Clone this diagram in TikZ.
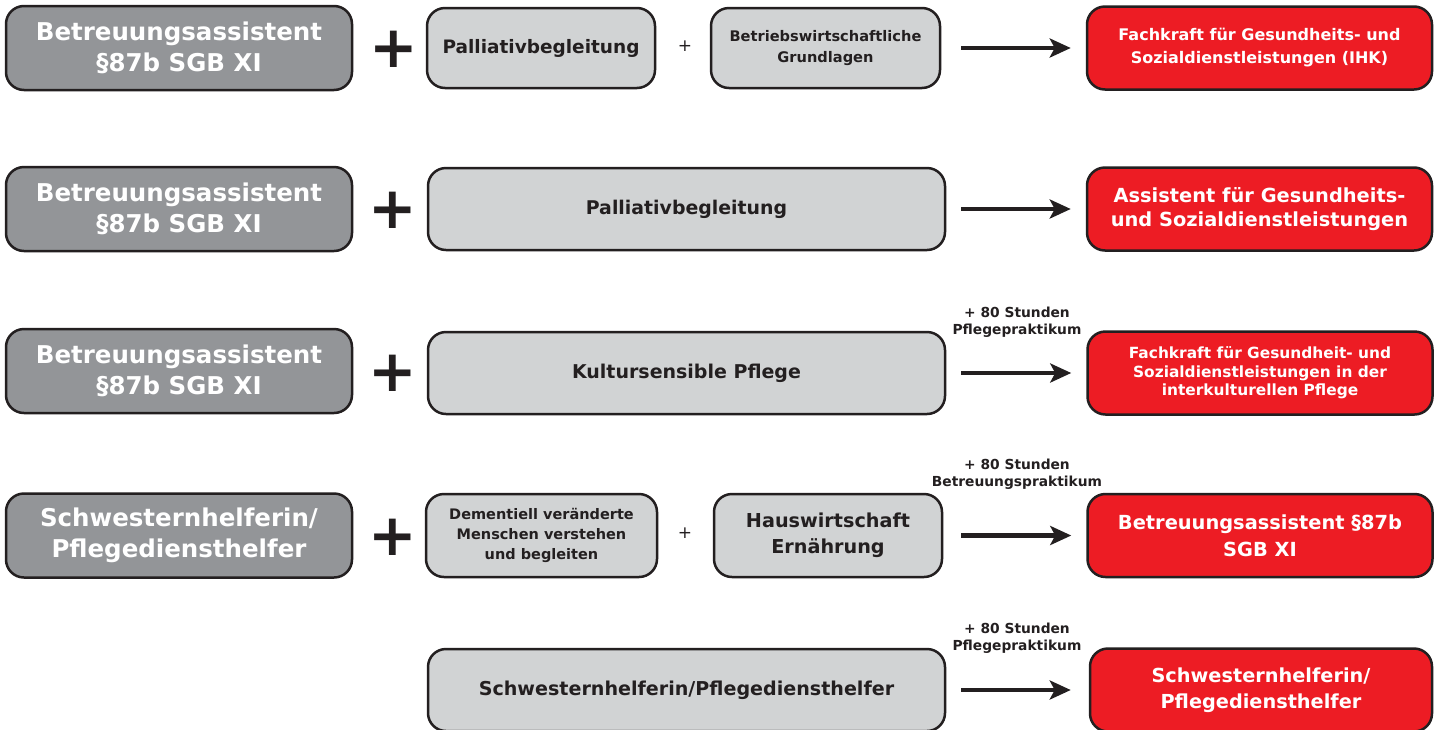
\documentclass[tikz,border=0pt]{standalone}
\usepackage{fontspec}
\setmainfont{DejaVu Sans}
\usetikzlibrary{arrows.meta}
\definecolor{dgray}{HTML}{939598}
\definecolor{lgray}{HTML}{D1D3D4}
\definecolor{rred}{HTML}{ED1C24}
\definecolor{edge}{HTML}{231F20}
\newcommand{\fs}[2]{\bfseries\fontsize{#1}{#2}\selectfont}
\tikzset{
  box/.style={draw=edge, line width=2.5pt, rounded corners=18pt, align=center, inner sep=0pt},
  darkbox/.style={box, fill=dgray, text=white, minimum width=346pt, minimum height=84pt, font=\fs{24.5}{31}},
  lightbox/.style={box, fill=lgray, text=edge},
  redbox/.style={box, fill=rred, text=white, minimum width=345pt, minimum height=83pt},
  bigplus/.style={font=\fs{58}{58}, text=edge, inner sep=0pt},
  smallplus/.style={font=\fontsize{17}{17}\selectfont, text=edge, inner sep=0pt},
  conn/.style={-{Stealth[length=21pt,width=19pt,inset=5pt]}, line width=4.5pt, edge},
  note/.style={font=\fs{13.8}{17}, text=edge, align=center, inner sep=0pt}
}
\begin{document}
\begin{tikzpicture}[x=1pt,y=-1pt]
\useasboundingbox[fill=white] (0,0) rectangle (1435,729);
% Row 1
\node[darkbox] (g1) at (179,48) {Betreuungsassistent\\§87b SGB XI};
\node[bigplus] (p1) at (394,49) {+};
\node[lightbox, minimum width=228pt, minimum height=80pt, font=\fs{18.5}{22}] (a1) at (541,48) {Palliativbegleitung};
\node[smallplus] (q1) at (685,46) {+};
\node[lightbox, minimum width=229pt, minimum height=80pt, font=\fs{14.6}{21}] (b1) at (825.5,48) {Betriebswirtschaftliche\\Grundlagen\rule[-4pt]{0pt}{0pt}};
\node[redbox, font=\fs{16}{23}] (r1) at (1259.5,48) {Fachkraft für Gesundheits- und\\Sozialdienstleistungen (IHK)};
\draw[conn, shorten <=20pt, shorten >=15pt] (b1.east) -- (r1.west);
% Row 2
\node[darkbox] (g2) at (179,209) {Betreuungsassistent\\§87b SGB XI};
\node[bigplus] (p2) at (393,210) {+};
\node[lightbox, minimum width=517pt, minimum height=82pt, font=\fs{18.9}{22}] (a2) at (686.5,209) {Palliativbegleitung};
\node[redbox, font=\fs{19.4}{24}] (r2) at (1259.5,209) {Assistent für Gesundheits-\\und Sozialdienstleistungen};
\draw[conn, shorten <=15pt, shorten >=15pt] (a2.east) -- (r2.west);
% Row 3
\node[darkbox] (g3) at (179,371) {Betreuungsassistent\\§87b SGB XI};
\node[bigplus] (p3) at (393,373) {+};
\node[lightbox, minimum width=517pt, minimum height=82pt, font=\fs{19}{22}] (a3) at (686.5,373) {Kultursensible Pflege};
\node[redbox, font=\fs{15.4}{18.5}] (r3) at (1260,373) {Fachkraft für Gesundheit- und\\Sozialdienstleistungen in der\\interkulturellen Pflege};
\draw[conn, shorten <=15pt, shorten >=15pt] (a3.east) -- (r3.west);
\node[note] (n3) at (1017,322) {+ 80 Stunden\\Pflegepraktikum};
% Row 4
\node[darkbox] (g4) at (179,535.5) {Schwesternhelferin/\\Pflegediensthelfer};
\node[bigplus] (p4) at (393,537) {+};
\node[lightbox, minimum width=231pt, minimum height=83pt, font=\fs{14.5}{20}] (a4) at (541.5,535.5) {Dementiell veränderte\\Menschen verstehen\\und begleiten};
\node[smallplus] (q4) at (685,533) {+};
\node[lightbox, minimum width=228pt, minimum height=83pt, font=\fs{19.2}{26}] (b4) at (828,535.5) {Hauswirtschaft\\Ernährung};
\node[redbox, font=\fs{19.4}{27}] (r4) at (1260,535.5) {Betreuungsassistent §87b\\SGB XI};
\draw[conn, shorten <=18pt, shorten >=15pt] (b4.east) -- (r4.west);
\node[note] (n4) at (1017,474) {+ 80 Stunden\\Betreuungspraktikum};
% Row 5
\node[lightbox, minimum width=517pt, minimum height=82pt, font=\fs{19.1}{22}] (a5) at (686.5,690) {Schwesternhelferin/Pflegediensthelfer};
\node[redbox, minimum width=342pt, font=\fs{19.3}{26}] (r5) at (1261,690) {Schwesternhelferin/\\Pflegediensthelfer};
\draw[conn, shorten <=15pt, shorten >=18pt] (a5.east) -- (r5.west);
\node[note] (n5) at (1017,638.5) {+ 80 Stunden\\Pflegepraktikum};
\end{tikzpicture}
\end{document}
